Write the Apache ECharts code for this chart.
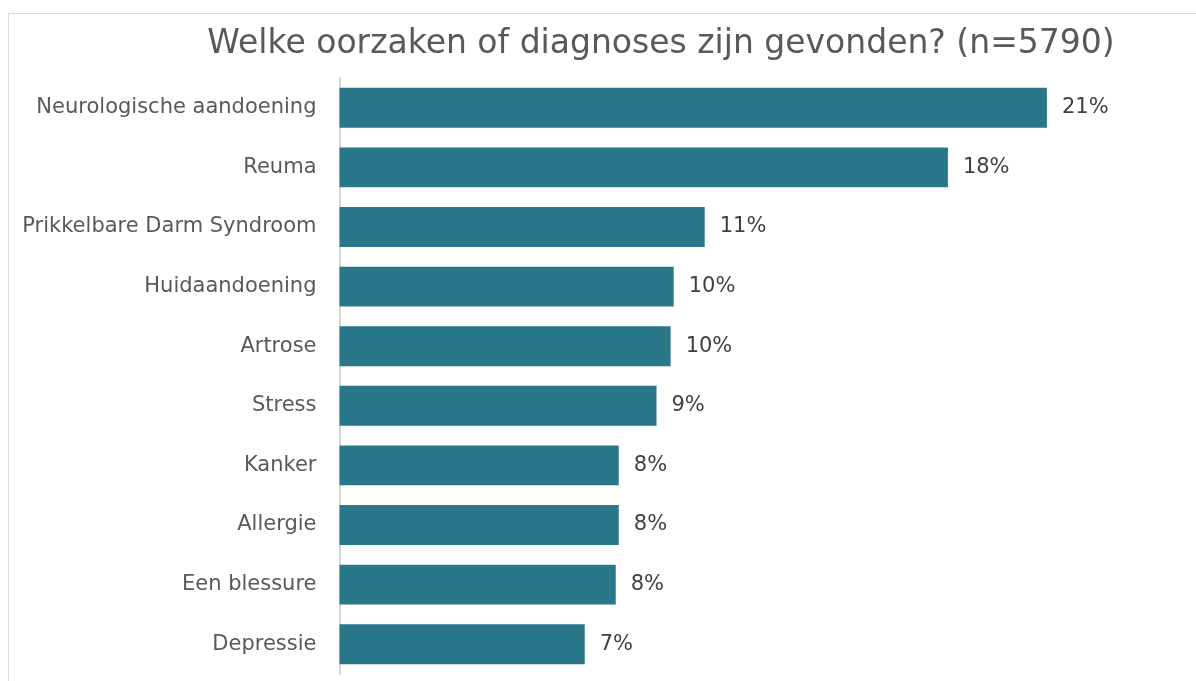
<!DOCTYPE html>
<html>
<head>
<meta charset="utf-8">
<script src="https://cdn.jsdelivr.net/npm/echarts@6/dist/echarts.min.js"></script>
<style>
html, body { margin: 0; padding: 0; background: #fff; }
#chart { width: 1196px; height: 681px; }
</style>
</head>
<body>
<div id="chart"></div>
<script>
// categories from top to bottom
var categories = [
    'Neurologische aandoening',
    'Reuma',
    'Prikkelbare Darm Syndroom',
    'Huidaandoening',
    'Artrose',
    'Stress',
    'Kanker',
    'Allergie',
    'Een blessure',
    'Depressie'
];
// percentages
var values = [21.0, 18.06, 10.84, 9.92, 9.83, 9.41, 8.29, 8.29, 8.2, 7.28];

var chart = echarts.init(document.getElementById('chart'));
chart.setOption({
    animation: false,
    title: {
        text: 'Welke oorzaken of diagnoses zijn gevonden? (n=5790)',
        left: 656,
        textAlign: 'center',
        top: 23,
        textStyle: {
            fontFamily: 'DejaVu Sans',
            fontSize: 33,
            fontWeight: 'normal',
            color: '#595959'
        }
    },
    graphic: [{
        type: 'rect',
        shape: { x: 8.5, y: 13.5, width: 1200, height: 700 },
        style: { fill: 'none', stroke: '#d9d9d9', lineWidth: 1 },
        silent: true,
        z: -1
    }],
    grid: {
        left: 339.5,
        right: 48,
        top: 78,
        bottom: 7
    },
    xAxis: {
        type: 'value',
        min: 0,
        max: 24,
        show: false
    },
    yAxis: {
        type: 'category',
        data: categories,
        inverse: true,
        axisLine: { show: true, lineStyle: { color: '#d9d9d9', width: 2 } },
        axisTick: { show: false },
        axisLabel: {
            margin: 23,
            fontFamily: 'DejaVu Sans',
            fontSize: 21,
            color: '#595959'
        }
    },
    series: [{
        type: 'bar',
        data: values,
        barCategoryGap: '33%',
        itemStyle: { color: '#2a7789' },
        label: {
            show: true,
            position: 'right',
            distance: 15,
            fontFamily: 'DejaVu Sans',
            fontSize: 21,
            color: '#404040',
            formatter: function (p) { return Math.round(p.value) + '%'; }
        }
    }]
});
</script>
</body>
</html>
